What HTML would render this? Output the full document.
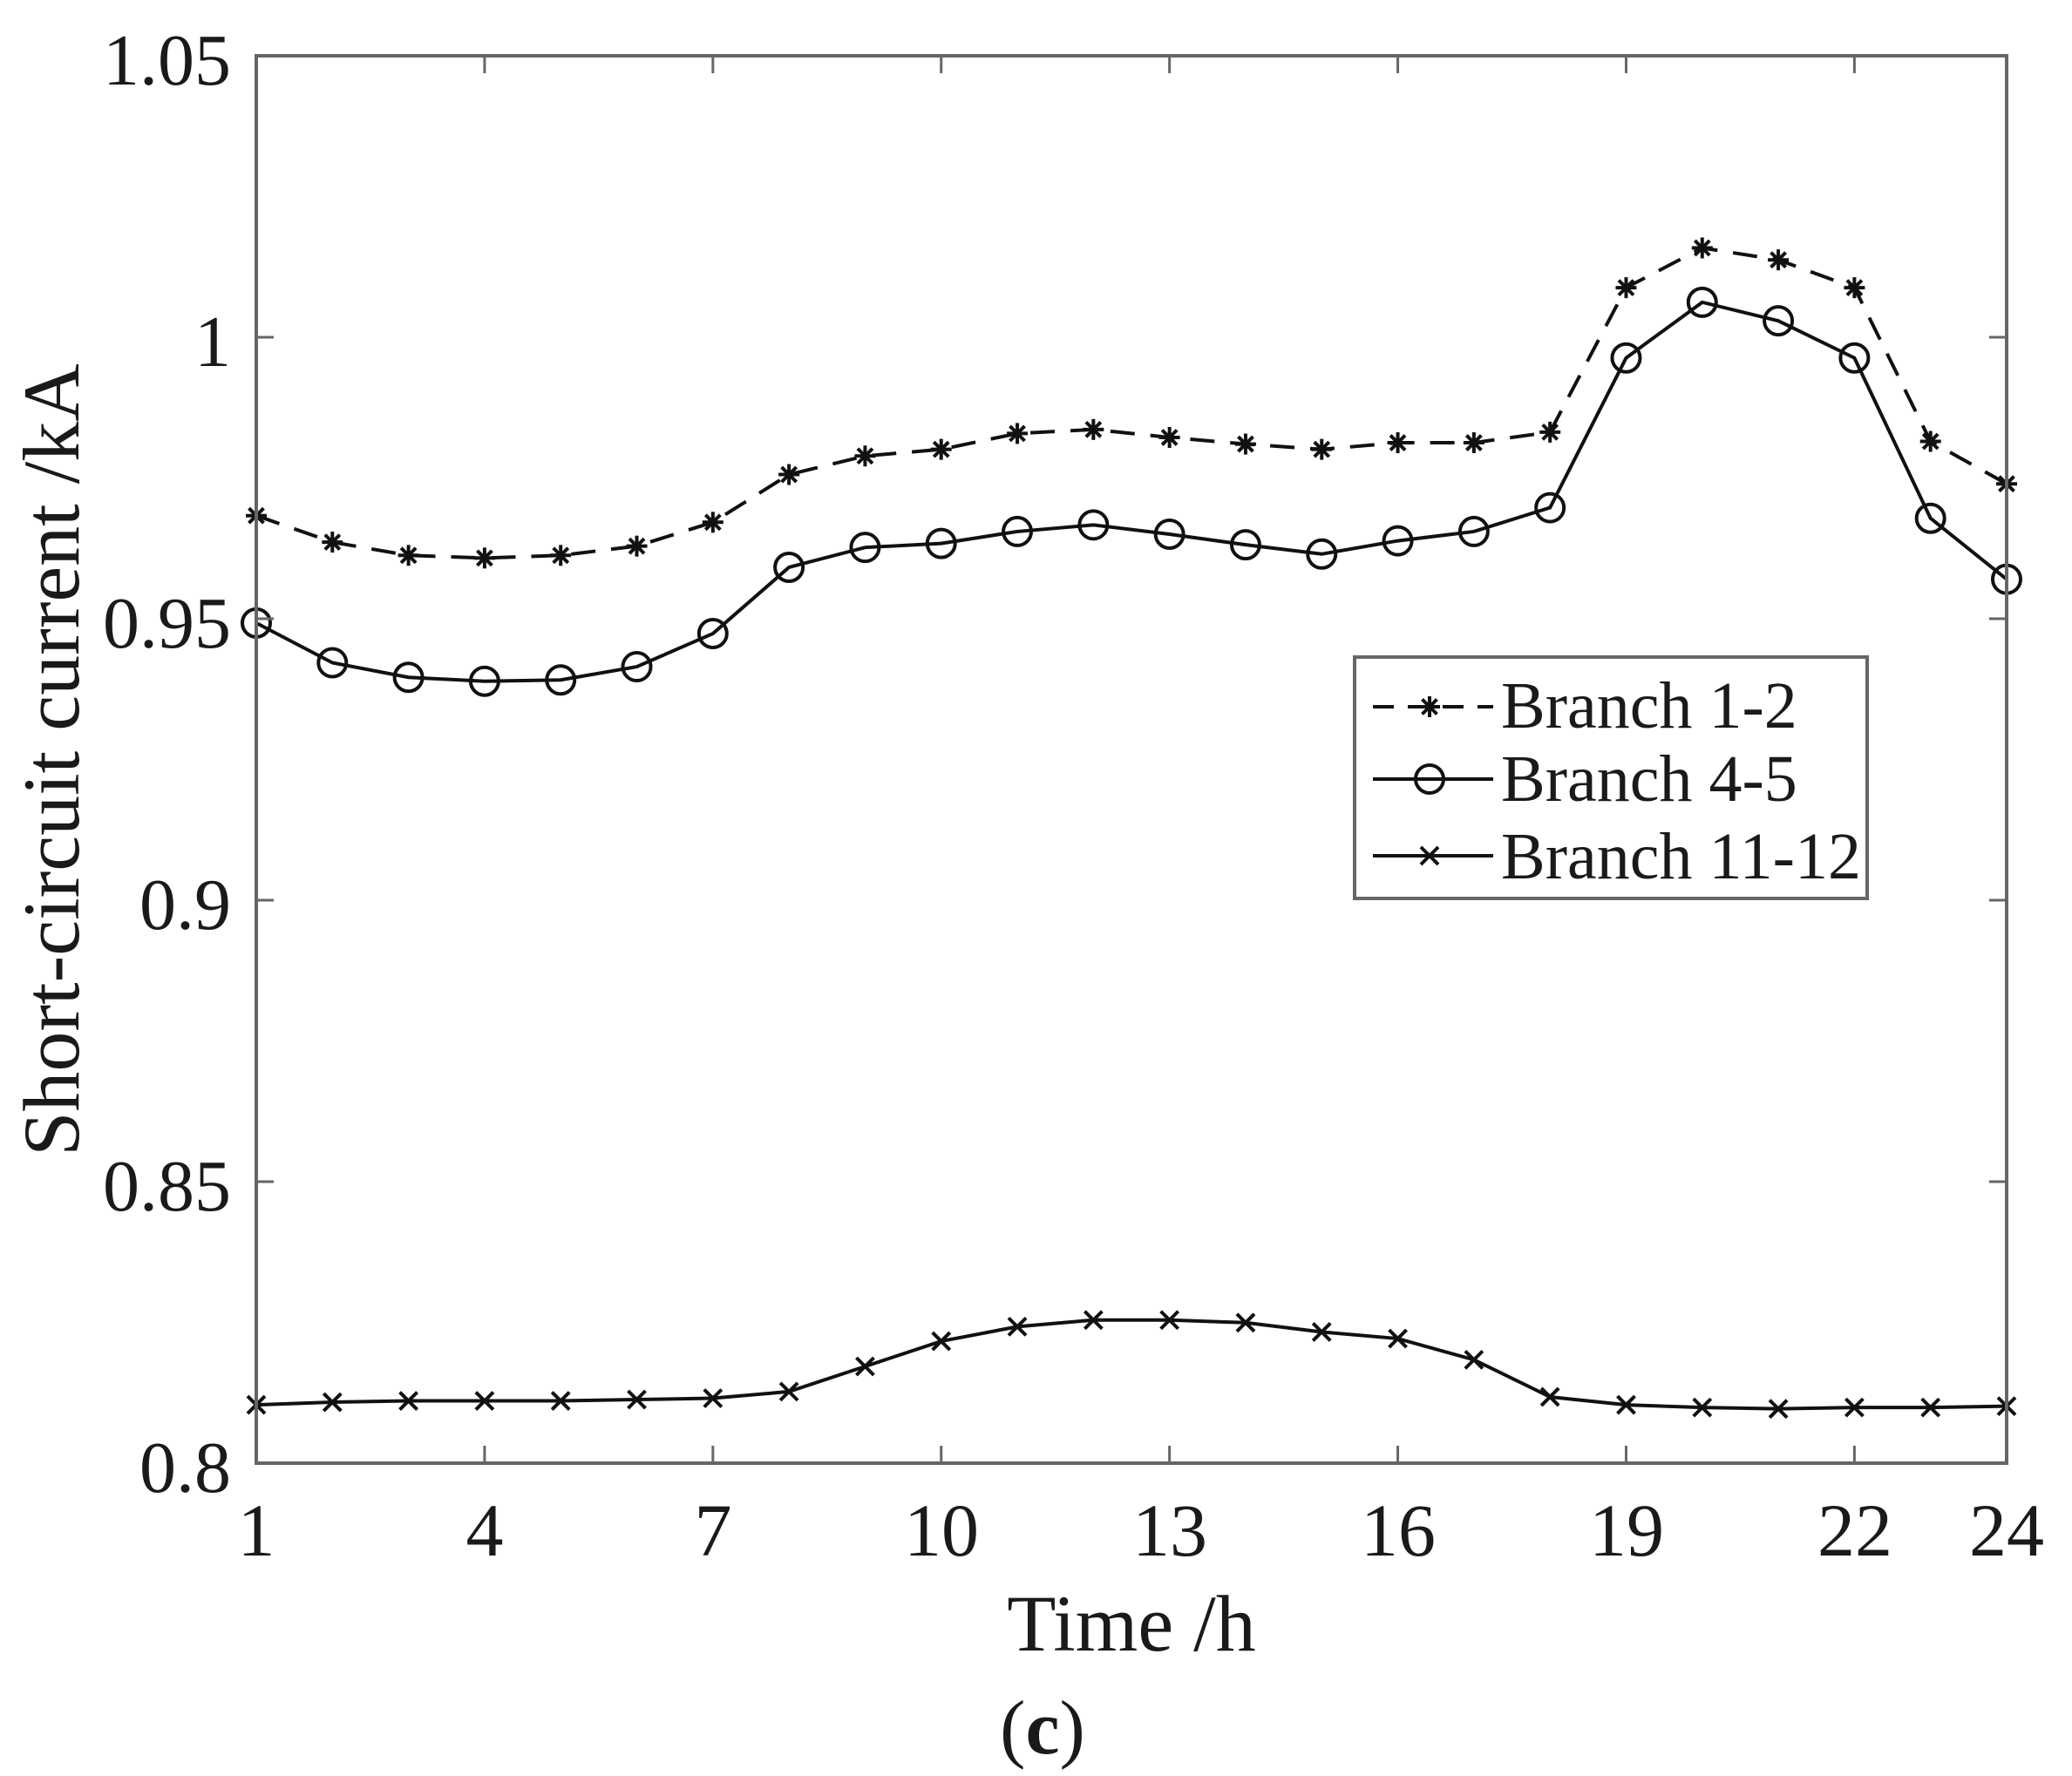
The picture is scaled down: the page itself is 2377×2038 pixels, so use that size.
<!DOCTYPE html>
<html><head><meta charset="utf-8"><style>
html,body{margin:0;padding:0;background:#fff;}
svg{display:block;}
text{font-family:"Liberation Serif",serif;fill:#1a1a1a;}
</style></head><body>
<svg id="s" width="2377" height="2038" xmlns="http://www.w3.org/2000/svg">
<rect x="0" y="0" width="2377" height="2038" fill="#fff"/>
<g id="plot"></g>
<rect x="294" y="64" width="2008" height="1615" fill="none" stroke="#666" stroke-width="4"/>
<g id="ticks" stroke="#666" stroke-width="3"></g>
<g font-size="84" text-anchor="end">
<text x="265" y="97">1.05</text>
<text x="265" y="420">1</text>
<text x="265" y="743">0.95</text>
<text x="265" y="1066">0.9</text>
<text x="265" y="1389">0.85</text>
<text x="265" y="1712">0.8</text>
</g>
<g font-size="86" text-anchor="middle">
<text x="294" y="1785">1</text>
<text x="556" y="1785">4</text>
<text x="818" y="1785">7</text>
<text x="1080" y="1785">10</text>
<text x="1342" y="1785">13</text>
<text x="1604" y="1785">16</text>
<text x="1866" y="1785">19</text>
<text x="2128" y="1785">22</text>
<text x="2302" y="1785">24</text>
</g>
<text x="1298" y="1894" font-size="92" text-anchor="middle">Time /h</text>
<text x="1196" y="2012" font-size="88" text-anchor="middle">(<tspan font-weight="bold">c</tspan>)</text>
<text transform="translate(90,872) rotate(-90)" font-size="92" text-anchor="middle">Short-circuit current /kA</text>
<rect x="1554" y="754" width="588" height="277" fill="#fff" stroke="#666" stroke-width="4"/>
<g font-size="76">
<text x="1722" y="835">Branch 1-2</text>
<text x="1722" y="919">Branch 4-5</text>
<text x="1722" y="1008">Branch 11-12</text>
</g>
<g id="leg"></g>
</svg>
<script>
var NS="http://www.w3.org/2000/svg";
function el(p,t,a){var e=document.createElementNS(NS,t);for(var k in a)e.setAttribute(k,a[k]);p.appendChild(e);return e;}
var L=294,R=2302,T=64,B=1679;
function X(i){return L+(i)*(R-L)/23;}
function Y(dy){return T+(dy-45)*(1615/1062);}
var tk=document.getElementById('ticks');
for(var i=0;i<24;i+=3){var x=X(i);el(tk,'line',{x1:x,y1:B,x2:x,y2:B-20});el(tk,'line',{x1:x,y1:T,x2:x,y2:T+20});}
el(tk,'line',{x1:X(23),y1:B,x2:X(23),y2:B-20});
for(var j=0;j<6;j++){var y=T+j*323;el(tk,'line',{x1:L,y1:y,x2:L+20,y2:y});el(tk,'line',{x1:R,y1:y,x2:R-20,y2:y});}
var s1=[392,412,422,424,422,415,397,361,347,342,330,327,333,338,342,337,337,329,220,190,199,220,336,368];
var s2=[473,503,514,517,516,506,481,431,416,413,404,399,406,414,421,411,404,386,273,231,245,273,394,440];
var s3=[1063,1061,1060,1060,1060,1059,1058,1053,1034,1015,1004,999,999,1001,1008,1013,1029,1057,1063,1065,1066,1065,1065,1064];
var g=document.getElementById('plot');
function pts(s){return s.map(function(v,i){return X(i)+','+Y(v);}).join(' ');}
function star(p,x,y){var r=12;for(var a=0;a<4;a++){var t=a*Math.PI/4;el(p,'line',{x1:x-r*Math.cos(t),y1:y-r*Math.sin(t),x2:x+r*Math.cos(t),y2:y+r*Math.sin(t),stroke:'#111','stroke-width':4});}}
function cross(p,x,y){var r=10;el(p,'line',{x1:x-r,y1:y-r,x2:x+r,y2:y+r,stroke:'#111','stroke-width':4});el(p,'line',{x1:x-r,y1:y+r,x2:x+r,y2:y-r,stroke:'#111','stroke-width':4});}
function circ(p,x,y){el(p,'circle',{cx:x,cy:y,r:16,fill:'none',stroke:'#111','stroke-width':4});}
el(g,'polyline',{points:pts(s1),fill:'none',stroke:'#111','stroke-width':4,'stroke-dasharray':'28,18'});
el(g,'polyline',{points:pts(s2),fill:'none',stroke:'#111','stroke-width':4});
el(g,'polyline',{points:pts(s3),fill:'none',stroke:'#111','stroke-width':4});
s1.forEach(function(v,i){star(g,X(i),Y(v));});
s2.forEach(function(v,i){circ(g,X(i),Y(v));});
s3.forEach(function(v,i){cross(g,X(i),Y(v));});
var lg=document.getElementById('leg');
el(lg,'line',{x1:1575,y1:811,x2:1713,y2:811,stroke:'#111','stroke-width':4,'stroke-dasharray':'24,16'});
star(lg,1640,811);
el(lg,'line',{x1:1575,y1:894,x2:1713,y2:894,stroke:'#111','stroke-width':4});
circ(lg,1640,894);
el(lg,'line',{x1:1575,y1:982,x2:1713,y2:982,stroke:'#111','stroke-width':4});
cross(lg,1640,982);
</script>
</body></html>
